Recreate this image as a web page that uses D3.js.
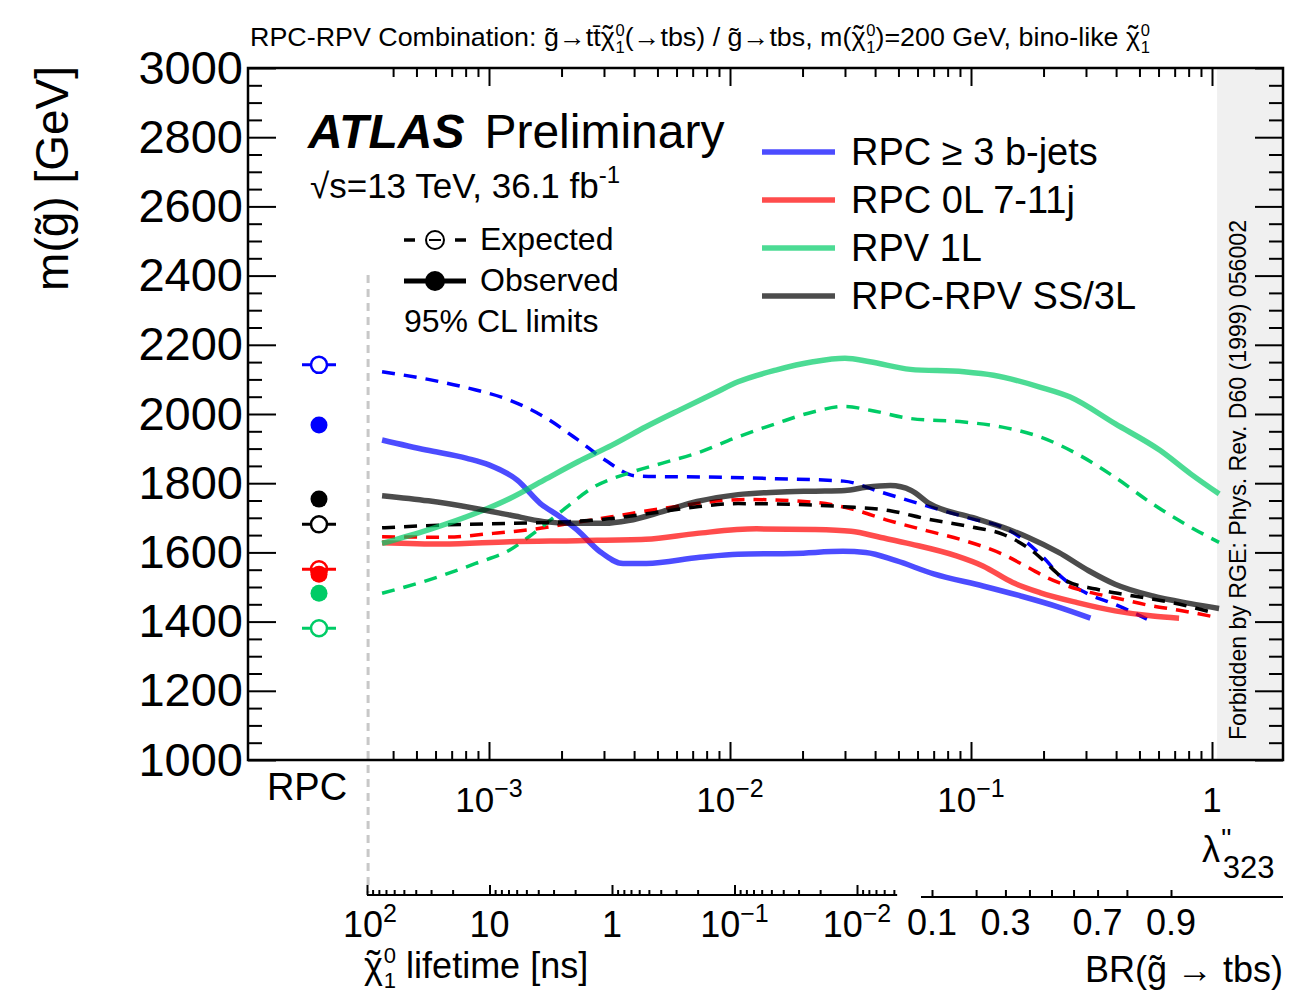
<!DOCTYPE html>
<html>
<head>
<meta charset="utf-8">
<script src="https://cdn.jsdelivr.net/npm/d3@7"></script>
<style>
  body { margin: 0; background: #fff; }
  text { font-family: "Liberation Sans", Arial, Helvetica, sans-serif; fill: #000; }
</style>
</head>
<body>
<div id="chart"></div>
<script>
// ---- data (lambda''_323 values, gluino mass limits in GeV) ----
const rpc3bObsLambda = [3.6e-4,5.5e-4,8.1e-4,1.0e-3,1.31e-3,1.63e-3,1.97e-3,2.32e-3,2.89e-3,3.6e-3,4.5e-3,7.5e-3,1.08e-2,1.85e-2,2.94e-2,3.66e-2,4.89e-2,7.0e-2,0.112,0.161,0.231,0.313];
const rpc3bObsMass   = [1925,1896,1872,1853,1809,1742,1703,1665,1602,1568,1568,1586,1595,1597,1603,1600,1576,1538,1503,1474,1442,1410];
const rpc3bExpLambda = [3.6e-4,5.6e-4,8.3e-4,1.22e-3,1.69e-3,2.34e-3,3.03e-3,4.07e-3,5.27e-3,7.5e-3,1.55e-2,2.96e-2,4.24e-2,6.5e-2,0.101,0.135,0.167,0.199,0.239,0.308,0.396,0.537];
const rpc3bExpMass   = [2122,2100,2074,2040,1992,1925,1867,1821,1819,1818,1813,1806,1774,1735,1697,1673,1634,1586,1527,1479,1450,1407];

const rpc0lObsLambda = [3.6e-4,6.4e-4,1.22e-3,2.33e-3,4.47e-3,7.3e-3,1.29e-2,2.22e-2,3.18e-2,4.23e-2,5.65e-2,8.7e-2,0.112,0.149,0.193,0.276,0.396,0.567,0.730];
const rpc0lObsMass   = [1628,1624,1631,1634,1638,1655,1668,1666,1661,1643,1624,1590,1561,1513,1484,1455,1431,1416,1410];
const rpc0lExpLambda = [3.6e-4,6.4e-4,1.04e-3,1.53e-3,2.18e-3,3.23e-3,5.25e-3,1.18e-2,2.22e-2,3.18e-2,4.56e-2,6.53e-2,9.4e-2,0.135,0.173,0.207,0.276,0.396,0.567,0.730,1.05];
const rpc0lExpMass   = [1645,1644,1655,1667,1684,1703,1727,1753,1745,1726,1692,1663,1634,1595,1556,1527,1494,1469,1445,1433,1412];

const rpv1lObsLambda = [3.6e-4,5.6e-4,8.8e-4,1.22e-3,1.69e-3,2.34e-3,3.24e-3,4.48e-3,6.2e-3,8.6e-3,1.08e-2,1.55e-2,2.21e-2,3.0e-2,3.81e-2,5.6e-2,9.35e-2,0.124,0.193,0.258,0.396,0.608,0.815,1.07];
const rpv1lObsMass   = [1626,1665,1713,1756,1809,1862,1910,1963,2012,2060,2093,2127,2151,2161,2151,2129,2122,2112,2078,2049,1972,1895,1827,1769];
const rpv1lExpLambda = [3.6e-4,5.6e-4,8.8e-4,1.22e-3,1.53e-3,1.99e-3,2.74e-3,3.79e-3,5.25e-3,7.5e-3,1.08e-2,1.55e-2,2.21e-2,3.0e-2,3.81e-2,5.6e-2,9.35e-2,0.135,0.193,0.275,0.396,0.567,0.815,1.07];
const rpv1lExpMass   = [1482,1520,1568,1607,1655,1718,1790,1829,1858,1890,1934,1972,2006,2022,2011,1987,1977,1962,1934,1885,1817,1740,1673,1629];

const ss3lObsLambda = [3.6e-4,5.6e-4,8.8e-4,1.22e-3,1.69e-3,2.18e-3,3.02e-3,3.79e-3,5.25e-3,7.3e-3,1.08e-2,1.55e-2,2.21e-2,3.0e-2,3.66e-2,4.63e-2,5.65e-2,6.76e-2,0.101,0.135,0.173,0.231,0.308,0.396,0.567,0.815,1.07];
const ss3lObsMass   = [1764,1749,1727,1708,1689,1684,1684,1692,1718,1747,1767,1774,1777,1779,1788,1793,1779,1740,1701,1673,1643,1600,1547,1508,1474,1452,1438];
const ss3lExpLambda = [3.6e-4,6.4e-4,1.22e-3,2.18e-3,3.23e-3,5.25e-3,7.3e-3,1.08e-2,1.55e-2,2.96e-2,4.56e-2,6.53e-2,0.101,0.135,0.179,0.215,0.248,0.330,0.474,0.681,1.01];
const ss3lExpMass   = [1671,1679,1684,1689,1698,1718,1732,1741,1740,1732,1721,1697,1673,1653,1605,1556,1518,1494,1474,1455,1426];

// RPC-only limits (left column), order: 3b, 0L, 1L, SS/3L
const rpcCategory = ["RPC"];
const rpcObsMass = [1968, 1537, 1482, 1754];
const rpcExpMass = [2142, 1551, 1381, 1681];

const seriesNames = ["RPC \u2265 3 b-jets", "RPC 0L 7-11j", "RPV 1L", "RPC-RPV SS/3L"];

// axis tick values
const yMajorTicks = [1000,1200,1400,1600,1800,2000,2200,2400,2600,2800,3000];
const lambdaMajor = [1e-3, 1e-2, 1e-1, 1];
const lambdaLabels = [["10","\u22123"],["10","\u22122"],["10","\u22121"],["1",""]];
const lifetimeMajor = [100, 10, 1, 0.1, 0.01];
const lifetimeLabels = [["10","2"],["10",""],["1",""],["10","\u22121"],["10","\u22122"]];
const brTicks = [0.1,0.2,0.3,0.4,0.5,0.6,0.7,0.8,0.9];
const brLabels = [0.1,0.3,0.7,0.9];
const rpcBoundary = 3.15e-4;   // lambda where the RPC column ends
const forbiddenStart = 1.05;   // lambda where RGE-forbidden band starts
const lifetimeEnd = 0.0047;

// ---- styles ----
const obsColors = ["#0000ff", "#ff0000", "#00cc66", "#000000"];
const expColors = ["#0000ff", "#ff0000", "#00cc66", "#000000"];

const W = 1300, H = 996;
const L = 248, R = 1283, T = 68, B = 760;

const svg = d3.select("#chart").append("svg").attr("width", W).attr("height", H);

const x = d3.scaleLog().domain([1e-3, 1]).range([489, 1212]);
const y = d3.scaleLinear().domain([1000, 3000]).range([B, T]);
const tau = d3.scaleLog().domain([100, 0.01]).range([367, 857]);
const brOdds = d3.scaleLog().domain([1/9, 9]).range([932, 1171]);
const rpcX = d3.scaleBand().domain(rpcCategory).range([270, 368]);

// neutralino symbol: chi with a tilde, superscript 0 and subscript 1 stacked.
// leaves the text cursor 'down' px below the baseline
function chiTilde(t, s, ss, up, down) {
  t.append("tspan").text("\u03c7");
  t.append("tspan").attr("dx", -0.44 * s).attr("font-size", s * 1.1).text("\u02dc");
  t.append("tspan").attr("dx", 0.1 * s).attr("dy", -up).attr("font-size", ss).text("0");
  t.append("tspan").attr("dx", -0.556 * ss).attr("dy", up + down).attr("font-size", ss).text("1");
}

// forbidden band
svg.append("rect")
  .attr("x", x(forbiddenStart)).attr("y", T)
  .attr("width", R - x(forbiddenStart)).attr("height", B - T)
  .attr("fill", "#f0f0f0");

svg.append("text")
  .attr("transform", `translate(${(x(forbiddenStart) + R) / 2 - 12},740) rotate(-90)`)
  .attr("font-size", 24)
  .attr("textLength", 520).attr("lengthAdjust", "spacingAndGlyphs")
  .attr("dy", "0.35em")
  .text("Forbidden by RGE: Phys. Rev. D60 (1999) 056002");

// RPC divider
svg.append("line")
  .attr("x1", x(rpcBoundary)).attr("x2", x(rpcBoundary))
  .attr("y1", 275).attr("y2", 893)
  .attr("stroke", "#c8c8c8").attr("stroke-width", 3)
  .attr("stroke-dasharray", "8,6");

// ---- axes: y ----
const yMinor = d3.range(1000, 3001, 50).filter(v => v % 200 !== 0);
function styleAxis(g) {
  g.select(".domain").remove();
  g.selectAll("line").attr("stroke", "#000").attr("stroke-width", 2);
}
svg.append("g").attr("transform", `translate(${L},0)`)
  .call(d3.axisLeft(y).tickValues(yMajorTicks).tickSize(-28).tickPadding(5).tickFormat(d3.format("d")))
  .call(styleAxis)
  .selectAll("text").attr("font-size", 47).attr("font-family", "Liberation Sans, Arial, sans-serif").attr("fill", "#000");
svg.append("g").attr("transform", `translate(${L},0)`)
  .call(d3.axisLeft(y).tickValues(yMinor).tickSize(-14).tickFormat(""))
  .call(styleAxis);
svg.append("g").attr("transform", `translate(${R},0)`)
  .call(d3.axisRight(y).tickValues(yMajorTicks).tickSize(-28).tickFormat(""))
  .call(styleAxis);
svg.append("g").attr("transform", `translate(${R},0)`)
  .call(d3.axisRight(y).tickValues(yMinor).tickSize(-14).tickFormat(""))
  .call(styleAxis);

// ---- axes: lambda (top and bottom) ----
const lambdaMinor = [];
[1e-4, 1e-3, 1e-2, 1e-1, 1].forEach(d => { for (let k = 2; k <= 9; k++) lambdaMinor.push(d * k); });
const lamMinorVis = lambdaMinor.filter(v => x(v) > x(rpcBoundary) + 2 && x(v) < R);
svg.append("g").attr("transform", `translate(0,${B})`)
  .call(d3.axisBottom(x).tickValues(lambdaMajor).tickSize(-18).tickFormat(""))
  .call(styleAxis);
svg.append("g").attr("transform", `translate(0,${B})`)
  .call(d3.axisBottom(x).tickValues(lamMinorVis).tickSize(-9).tickFormat(""))
  .call(styleAxis);
svg.append("g").attr("transform", `translate(0,${T})`)
  .call(d3.axisTop(x).tickValues(lambdaMajor).tickSize(-18).tickFormat(""))
  .call(styleAxis);
svg.append("g").attr("transform", `translate(0,${T})`)
  .call(d3.axisTop(x).tickValues(lamMinorVis).tickSize(-9).tickFormat(""))
  .call(styleAxis);

lambdaMajor.forEach((v, i) => {
  const t = svg.append("text").attr("x", x(v)).attr("y", 812)
    .attr("text-anchor", "middle").attr("font-size", 35);
  t.append("tspan").text(lambdaLabels[i][0]);
  if (lambdaLabels[i][1]) t.append("tspan").attr("dy", -15).attr("font-size", 25).text(lambdaLabels[i][1]);
});

// lambda''_323 label
const lamT = svg.append("text").attr("x", 1202).attr("y", 862).attr("font-size", 36);
lamT.append("tspan").text("\u03bb");
lamT.append("tspan").attr("dy", -14).attr("dx", 1).attr("font-size", 28).text("''");
lamT.append("tspan").attr("dx", -9).attr("dy", 30).attr("font-size", 31).text("323");

// RPC column label
svg.append("text").attr("x", rpcX("RPC") + rpcX.bandwidth() / 2 - 12).attr("y", 800)
  .attr("text-anchor", "middle").attr("font-size", 38).text("RPC");

// ---- lifetime axis ----
const tauMinor = [];
[10, 1, 0.1, 0.01, 0.001].forEach(d => { for (let k = 2; k <= 9; k++) tauMinor.push(d * k); });
const tauMinorVis = tauMinor.filter(v => v < 100 && v >= lifetimeEnd);
svg.append("line").attr("x1", tau(100)).attr("x2", tau(lifetimeEnd))
  .attr("y1", 895).attr("y2", 895).attr("stroke", "#000").attr("stroke-width", 2);
svg.append("g").attr("transform", "translate(0,895)")
  .call(d3.axisBottom(tau).tickValues(lifetimeMajor).tickSize(-10).tickFormat(""))
  .call(styleAxis);
svg.append("g").attr("transform", "translate(0,895)")
  .call(d3.axisBottom(tau).tickValues(tauMinorVis).tickSize(-5).tickFormat(""))
  .call(styleAxis);
lifetimeMajor.forEach((v, i) => {
  const t = svg.append("text").attr("x", tau(v) + (i === 0 ? 3 : 0)).attr("y", 937)
    .attr("text-anchor", "middle").attr("font-size", 36);
  t.append("tspan").text(lifetimeLabels[i][0]);
  if (lifetimeLabels[i][1]) t.append("tspan").attr("dy", -15).attr("font-size", 25).text(lifetimeLabels[i][1]);
});
const tauTitle = svg.append("text").attr("x", 364).attr("y", 978).attr("font-size", 36);
chiTilde(tauTitle, 36, 22, 15, 10);
tauTitle.append("tspan").attr("dy", -10).text(" lifetime [ns]");

// ---- BR axis ----
const odds = p => p / (1 - p);
svg.append("line").attr("x1", 921).attr("x2", R)
  .attr("y1", 897).attr("y2", 897).attr("stroke", "#000").attr("stroke-width", 2);
svg.append("g").attr("transform", "translate(0,897)")
  .call(d3.axisBottom(brOdds).tickValues(brTicks.map(odds)).tickSize(-7).tickFormat(""))
  .call(styleAxis);
brLabels.forEach(v => {
  svg.append("text").attr("x", brOdds(odds(v))).attr("y", 935)
    .attr("text-anchor", "middle").attr("font-size", 36).text(v.toString());
});
svg.append("text").attr("x", R).attr("y", 982).attr("text-anchor", "end")
  .attr("font-size", 36).text("BR(g\u0303 \u2192 tbs)");

// ---- y title ----
svg.append("text").attr("transform", "translate(68,66) rotate(-90)")
  .attr("text-anchor", "end").attr("font-size", 46).text("m(g\u0303) [GeV]");

// ---- curves ----
const line = d3.line().x(d => x(d[0])).y(d => y(d[1])).curve(d3.curveMonotoneX);
const expSets = [
  [rpc3bExpLambda, rpc3bExpMass], [rpc0lExpLambda, rpc0lExpMass],
  [rpv1lExpLambda, rpv1lExpMass], [ss3lExpLambda, ss3lExpMass]
];
const obsSets = [
  [rpc3bObsLambda, rpc3bObsMass], [rpc0lObsLambda, rpc0lObsMass],
  [rpv1lObsLambda, rpv1lObsMass], [ss3lObsLambda, ss3lObsMass]
];
const gCurves = svg.append("g");
expSets.forEach((s, i) => {
  gCurves.append("path").datum(d3.zip(s[0], s[1]))
    .attr("d", line).attr("fill", "none")
    .attr("stroke", expColors[i]).attr("stroke-width", 3.5)
    .attr("stroke-dasharray", "13,9");
});
obsSets.forEach((s, i) => {
  gCurves.append("path").datum(d3.zip(s[0], s[1]))
    .attr("d", line).attr("fill", "none")
    .attr("stroke", obsColors[i]).attr("stroke-opacity", 0.7).attr("stroke-width", 5.5);
});

// ---- RPC markers ----
const mx = rpcX("RPC") + rpcX.bandwidth() / 2;
rpcExpMass.forEach((m, i) => {
  svg.append("line").attr("x1", mx - 17).attr("x2", mx + 17)
    .attr("y1", y(m)).attr("y2", y(m)).attr("stroke", expColors[i]).attr("stroke-width", 3);
});
rpcObsMass.forEach((m, i) => {
  svg.append("circle").attr("cx", mx).attr("cy", y(m)).attr("r", 8.5).attr("fill", expColors[i]);
});
rpcExpMass.forEach((m, i) => {
  svg.append("circle").attr("cx", mx).attr("cy", y(m)).attr("r", 8)
    .attr("fill", i === 1 ? "none" : "#fff").attr("stroke", expColors[i]).attr("stroke-width", 2.5);
});

// ---- frame ----
svg.append("rect").attr("x", L).attr("y", T).attr("width", R - L).attr("height", B - T)
  .attr("fill", "none").attr("stroke", "#000").attr("stroke-width", 2.5);

// ---- title ----
const title = svg.append("text").attr("x", 250).attr("y", 46).attr("font-size", 26)
  .attr("textLength", 900).attr("lengthAdjust", "spacingAndGlyphs");
title.append("tspan").text("RPC-RPV Combination: g\u0303\u2192tt\u0304");
chiTilde(title, 26, 16, 10, 7);
title.append("tspan").attr("dy", -7).text("(\u2192tbs) / g\u0303\u2192tbs, m(");
chiTilde(title, 26, 16, 10, 7);
title.append("tspan").attr("dy", -7).text(")=200 GeV, bino-like ");
chiTilde(title, 26, 16, 10, 7);

// ---- ATLAS label ----
const atlas = svg.append("text").attr("x", 308).attr("y", 148).attr("font-size", 48);
atlas.append("tspan").attr("font-weight", "bold").attr("font-style", "italic").text("ATLAS");
atlas.append("tspan").attr("dx", 20).text("Preliminary");
const energy = svg.append("text").attr("x", 310).attr("y", 198).attr("font-size", 35);
energy.append("tspan").text("\u221as=13 TeV, 36.1 fb");
energy.append("tspan").attr("dy", -15).attr("font-size", 24).text("-1");

// expected / observed legend
const lgx = 435;
[[404, 415], [455, 466]].forEach(seg => {
  svg.append("line").attr("x1", seg[0]).attr("x2", seg[1]).attr("y1", 240).attr("y2", 240)
    .attr("stroke", "#000").attr("stroke-width", 3.5);
});
svg.append("circle").attr("cx", lgx).attr("cy", 240).attr("r", 9).attr("fill", "#fff")
  .attr("stroke", "#000").attr("stroke-width", 2);
svg.append("line").attr("x1", lgx - 6).attr("x2", lgx + 6).attr("y1", 240).attr("y2", 240)
  .attr("stroke", "#000").attr("stroke-width", 2);
svg.append("text").attr("x", 480).attr("y", 250).attr("font-size", 32).text("Expected");
svg.append("line").attr("x1", 404).attr("x2", 466).attr("y1", 281).attr("y2", 281)
  .attr("stroke", "#000").attr("stroke-width", 5);
svg.append("circle").attr("cx", lgx).attr("cy", 281).attr("r", 10).attr("fill", "#000");
svg.append("text").attr("x", 480).attr("y", 291).attr("font-size", 32).text("Observed");
svg.append("text").attr("x", 404).attr("y", 332).attr("font-size", 32).text("95% CL limits");

// series legend
seriesNames.forEach((name, i) => {
  const yy = 152 + i * 48;
  svg.append("line").attr("x1", 762).attr("x2", 835).attr("y1", yy).attr("y2", yy)
    .attr("stroke", obsColors[i]).attr("stroke-opacity", 0.7).attr("stroke-width", 5.5);
  svg.append("text").attr("x", 851).attr("y", yy + 13).attr("font-size", 38).text(name);
});
</script>
</body>
</html>
